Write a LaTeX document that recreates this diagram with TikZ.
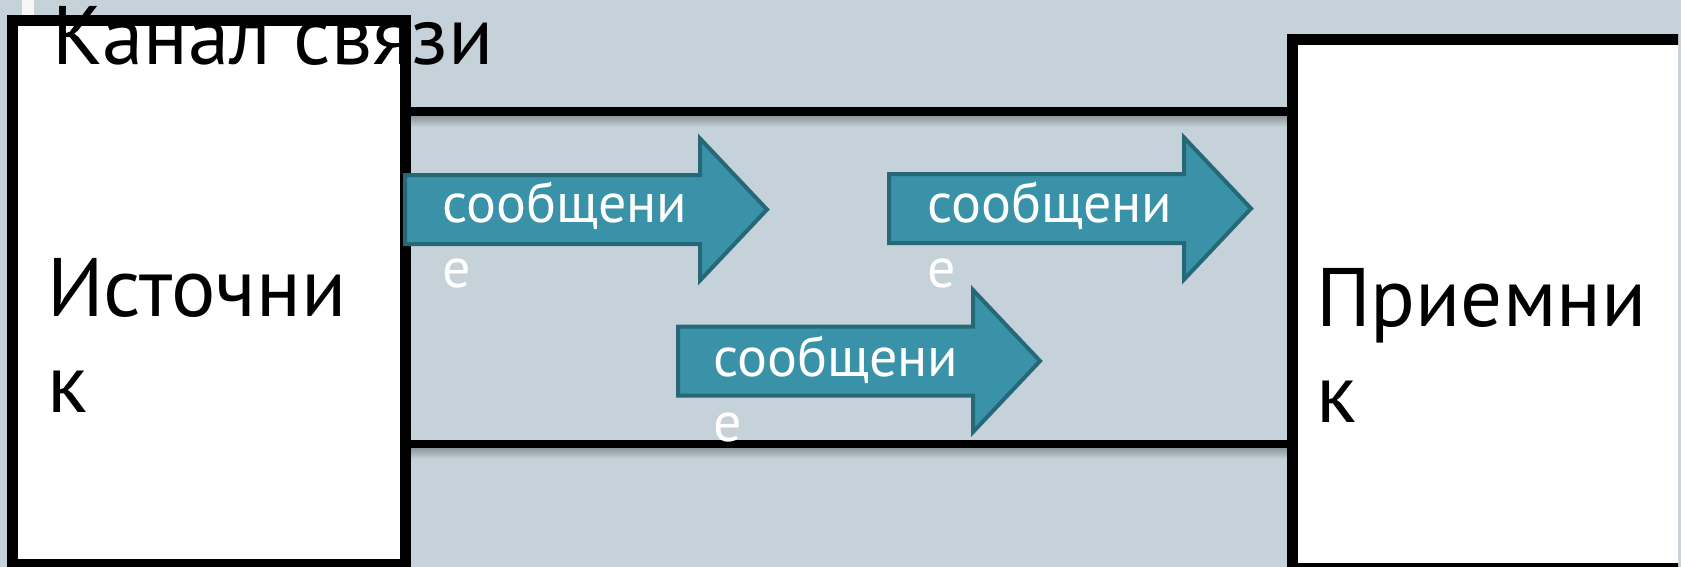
\documentclass[tikz,border=0pt]{standalone}
\usepackage{fontspec}
\setmainfont{PT Sans}
\definecolor{chanbg}{RGB}{197,210,217}
\definecolor{arrowfill}{RGB}{58,146,168}
\definecolor{arrowline}{RGB}{38,104,120}
\tikzset{
  endbox/.style={draw=black, fill=white, line width=11pt, inner sep=0pt, outer sep=0pt},
  chanline/.style={draw=black, line width=#1},
  chanshadow/.style={top color=black!28!chanbg, bottom color=chanbg},
  msgarrow/.style={draw=arrowline, fill=arrowfill, line width=4pt, line join=miter},
  bigtext/.style={inner sep=0pt, outer sep=0pt, align=left, text=black,
    font=\fontsize{83}{96}\selectfont},
  msgtext/.style={inner sep=0pt, outer sep=0pt, align=left, text=white,
    font=\fontsize{56}{65}\selectfont},
}
% message arrow: #1 = left edge, #2 = centre line
\newcommand\msgarrow[2]{%
  \draw[msgarrow] (#1+2,#2-34.5) -- (#1+297,#2-34.5) -- (#1+297,#2-71)
    -- (#1+364,#2) -- (#1+297,#2+71) -- (#1+297,#2+34.5) -- (#1+2,#2+34.5) -- cycle;}
\begin{document}
\begin{tikzpicture}[x=1pt, y=-1pt]
  \useasboundingbox (0,0) rectangle (1681,567);
  \fill[chanbg] (0,0) rectangle (1681,567);
  \fill[white!94!gray] (22,0) rectangle (34,15);

  % soft shadows under the channel rails
  \shade[chanshadow] (411,116) rectangle (1287,127);
  \shade[chanshadow] (411,448) rectangle (1287,459);

  % end points of the link
  \node[endbox, minimum width=393pt, minimum height=544pt] (src) at (209,292.5) {};
  \begin{scope}
    \clip (0,0) rectangle (1678,567);
    \node[endbox, minimum width=397.5pt, minimum height=529pt] (dst) at (1491.25,304) {};
  \end{scope}

  % the channel rails
  \coordinate (railtop) at (0,111.5);
  \coordinate (railbot) at (0,444);
  \draw[chanline=9pt] (src.east |- railtop) -- (dst.west |- railtop);
  \draw[chanline=8pt] (src.east |- railbot) -- (dst.west |- railbot);

  % messages travelling through the channel
  \msgarrow{403}{209.5}
  \msgarrow{887}{208.5}
  \msgarrow{676}{361}
  \node[msgtext, anchor=base west] (m1) at (442,287) {сообщени\\е};
  \node[msgtext, anchor=base west] (m2) at (927,287) {сообщени\\е};
  \node[msgtext, anchor=base west] (m3) at (713,441) {сообщени\\е};

  % labels
  \node[bigtext, anchor=base west] (title) at (52,65) {Канал связи};
  \node[bigtext, anchor=base west] (srclabel) at (47,412) {Источни\\к};
  \node[bigtext, anchor=base west] (dstlabel) at (1316,422) {Приемни\\к};
\end{tikzpicture}
\end{document}
